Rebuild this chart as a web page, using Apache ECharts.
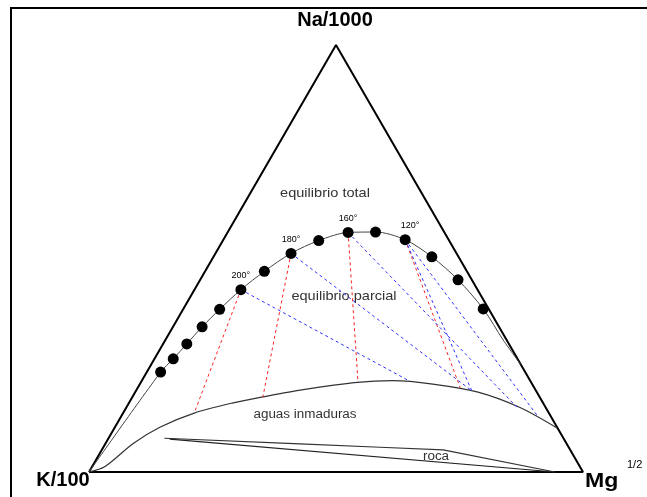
<!DOCTYPE html>
<html>
<head>
<meta charset="utf-8">
<script src="https://cdn.jsdelivr.net/npm/echarts@6/dist/echarts.min.js"></script>
<style>
  html, body { margin: 0; padding: 0; background: #fff; }
  #chart { width: 647px; height: 497px; }
</style>
</head>
<body>
<div id="chart"></div>
<script>
// ternary points as [Na%, Mg%] (K% = 100 - Na - Mg)
var eqDots = [
    [23.4, 2.8], [26.5, 3.8], [30.0, 4.8], [34.0, 5.9], [38.1, 7.4],
    [42.7, 9.4], [47.0, 12.0], [51.2, 15.3], [54.2, 19.4], [56.1, 24.4],
    [56.2, 29.9], [54.4, 36.8], [50.4, 44.2], [45.0, 52.2], [38.2, 60.7]
];
var dotTemps = {5: '200°', 7: '180°', 9: '160°', 11: '120°'};
var eqCurveStart = [[0, 0]];
var eqCurveEnd = [[30.9, 68.4], [25.1, 74.9]];

var immatureCurve = [
    [0, 0], [1.3, 2.6], [6.7, 5.6], [10.5, 9.1], [13.8, 14.4], [16.2, 21.1],
    [17.6, 26.4], [19.3, 33.7], [21.0, 43.8], [21.4, 50.8], [20.6, 59.3],
    [18.7, 69.4], [15.1, 79.7], [10.3, 89.6]
];
var rockUpper = [[7.9, 11.3], [6.6, 39.4], [5.8, 56.0], [5.2, 69.1], [0, 94.3]];
var rockLower = [[7.7, 12.5], [0, 94.3]];

var redFrom = [5, 7, 9, 11];
var redTo = [[13.8, 14.4], [17.6, 26.4], [21.1, 43.9], [19.7, 65.3]];
var blueFrom = [5, 7, 9, 11, 11];
var blueTo = [[21.6, 53.6], [19.0, 68.0], [15.2, 79.0], [19.0, 68.0], [12.9, 84.5]];

var triangle = [[0, 0], [0, 100], [100, 0], [0, 0]];

function xy(p){
    // Na, Mg -> cartesian in triangle space
    return [p[1] + p[0] / 2, p[0] * 0.866];
}

var series = [];
series.push({
    type: 'line', data: triangle.map(xy), symbol: 'none', clip: false,
    lineStyle: {color: '#000', width: 2}
});
series.push({
    type: 'line', data: eqCurveStart.concat(eqDots, eqCurveEnd).map(xy),
    symbol: 'none', smooth: 0.3, clip: false,
    lineStyle: {color: '#444', width: 1}
});
series.push({
    type: 'line', data: immatureCurve.map(xy), symbol: 'none', smooth: 0.3, clip: false,
    lineStyle: {color: '#333', width: 1.2}
});
series.push({
    type: 'line', data: rockUpper.map(xy), symbol: 'none', clip: false,
    lineStyle: {color: '#333', width: 1.2}
});
series.push({
    type: 'line', data: rockLower.map(xy), symbol: 'none', clip: false,
    lineStyle: {color: '#222', width: 1.2}
});
redFrom.forEach(function(i, k){
    series.push({
        type: 'line', data: [xy(eqDots[i]), xy(redTo[k])], symbol: 'none', clip: false,
        lineStyle: {color: '#ff2020', width: 1, type: [3, 3]}
    });
});
blueFrom.forEach(function(i, k){
    series.push({
        type: 'line', data: [xy(eqDots[i]), xy(blueTo[k])], symbol: 'none', clip: false,
        lineStyle: {color: '#3030ff', width: 1, type: [3, 3]}
    });
});
series.push({
    type: 'scatter', symbolSize: 11, clip: false,
    itemStyle: {color: '#000', opacity: 1},
    data: eqDots.map(function(p, i){
        var item = {value: xy(p)};
        if(dotTemps[i]){
            item.label = {
                show: true, position: 'top', distance: 4,
                formatter: dotTemps[i], fontSize: 9, color: '#000',
                fontFamily: 'Arial, Liberation Sans',
                offset: i == 11 ? [5, 0] : [0, 0]
            };
        }
        return item;
    }),
    z: 5
});

function label(text, x, y, size){
    return {
        type: 'text', x: x, y: y, scaleX: 1.12,
        style: {text: text, font: size + 'px Arial, Liberation Sans', fill: '#333', align: 'center', verticalAlign: 'middle'}
    };
}

var myChart = echarts.init(document.getElementById('chart'));
var option = {
    animation: false,
    grid: {left: 89, top: 45, width: 494, height: 427},
    xAxis: {type: 'value', min: 0, max: 100, show: false},
    yAxis: {type: 'value', min: 0, max: 86.6, show: false},
    graphic: [
        {type: 'polyline', shape: {points: [[11, 497], [11, 8], [647, 8]]},
         style: {stroke: '#000', lineWidth: 2, fill: null}},
        {type: 'text', x: 335, y: 20, style: {text: 'Na/1000', font: 'bold 20px Arial, Liberation Sans', fill: '#000', align: 'center', verticalAlign: 'middle'}},
        {type: 'text', x: 63, y: 480, style: {text: 'K/100', font: 'bold 20px Arial, Liberation Sans', fill: '#000', align: 'center', verticalAlign: 'middle'}},
        {type: 'text', x: 585, y: 481, scaleX: 1.1, style: {text: 'Mg', font: 'bold 21px Arial, Liberation Sans', fill: '#000', align: 'left', verticalAlign: 'middle'}},
        {type: 'text', x: 627, y: 465, style: {text: '1/2', font: '11px Arial, Liberation Sans', fill: '#000', align: 'left', verticalAlign: 'middle'}},
        label('equilibrio total', 325, 193, 13),
        label('equilibrio parcial', 344, 296, 13),
        label('aguas inmaduras', 305, 415, 12),
        label('roca', 436, 457, 12)
    ],
    series: series
};
myChart.setOption(option);
</script>
</body>
</html>
